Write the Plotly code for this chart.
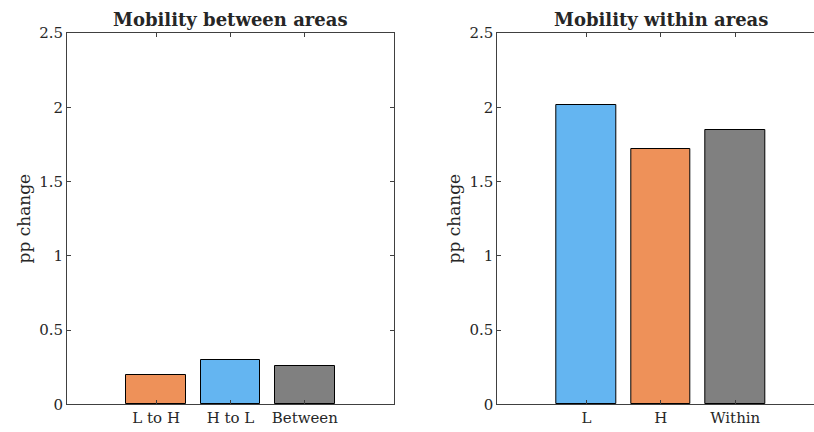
import plotly.graph_objects as go

# Data
between_labels = ["L to H", "H to L", "Between"]
between_values = [0.20, 0.30, 0.256]
between_colors = ["#EE9159", "#64B5F1", "#808080"]

within_labels = ["L", "H", "Within"]
within_values = [2.012, 1.716, 1.850]
within_colors = ["#64B5F1", "#EE9159", "#808080"]

y_ticks = [0, 0.5, 1, 1.5, 2, 2.5]
y_ticktext = ["0", "0.5", "1", "1.5", "2", "2.5"]

FONT = "DejaVu Serif"
AX = "#404040"
TXT = "#262626"

W, H = 814, 432


def px(x):
    return x / W


def py(y):
    return 1 - y / H


fig = go.Figure()
pos_b = list(range(1, len(between_labels) + 1))
pos_w = list(range(1, len(within_labels) + 1))

fig.add_bar(x=pos_b, y=between_values, width=0.8,
            marker=dict(color=between_colors, line=dict(color="black", width=1)),
            xaxis="x", yaxis="y", showlegend=False, hoverinfo="skip")
fig.add_bar(x=pos_w, y=within_values, width=0.8,
            marker=dict(color=within_colors, line=dict(color="black", width=1)),
            xaxis="x2", yaxis="y2", showlegend=False, hoverinfo="skip")

common_x = dict(showline=True, linecolor=AX, linewidth=1, mirror="ticks",
                ticks="inside", ticklen=4, tickcolor=AX, showgrid=False, automargin=False,
                zeroline=False, tickfont=dict(family=FONT, size=15, color=TXT))
common_y = dict(showline=True, linecolor=AX, linewidth=1, automargin=False,
                ticks="inside", ticklen=4, tickcolor=AX, showgrid=False,
                zeroline=False, range=[0, 2.5], tickvals=y_ticks, ticktext=y_ticktext,
                tickfont=dict(family=FONT, size=15, color=TXT),
                title=dict(text="pp change", font=dict(family=FONT, size=17, color=TXT), standoff=4))

fig.update_layout(
    width=W, height=H,
    margin=dict(l=0, r=0, t=0, b=0),
    plot_bgcolor="white", paper_bgcolor="white",
    bargap=0,
    xaxis=dict(domain=[px(67), px(394)], range=[-0.2, 4.2],
               tickvals=pos_b, ticktext=between_labels, anchor="y", **common_x),
    yaxis=dict(domain=[py(404.3), py(33)], anchor="x", mirror="ticks", **common_y),
    xaxis2=dict(domain=[px(497.3), 1.0], range=[-0.2, 4.06],
                tickvals=pos_w, ticktext=within_labels, anchor="y2", **common_x),
    yaxis2=dict(domain=[py(404.3), py(33)], anchor="x2", mirror=False, **common_y),
    annotations=[
        dict(text="<b>Mobility between areas</b>", xref="paper", yref="paper",
             x=px(230.5), y=py(19), xanchor="center", yanchor="middle", showarrow=False,
             font=dict(family=FONT, size=18, color=TXT)),
        dict(text="<b>Mobility within areas</b>", xref="paper", yref="paper",
             x=px(661), y=py(19), xanchor="center", yanchor="middle", showarrow=False,
             font=dict(family=FONT, size=18, color=TXT)),
    ],
)

fig.write_html("out.html", config={"displayModeBar": False},
               post_script="document.body.style.margin='0';document.documentElement.style.overflow='hidden';")
